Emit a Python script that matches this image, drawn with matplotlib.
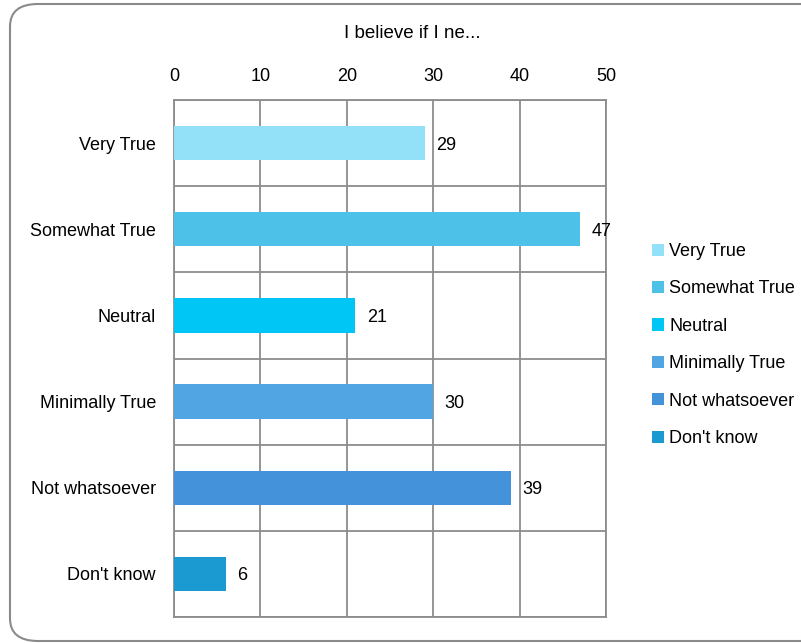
import matplotlib.pyplot as plt
from matplotlib.patches import FancyBboxPatch, Patch

plt.rcParams['font.family'] = ['Liberation Sans', 'DejaVu Sans']

# data
categories = ["Very True", "Somewhat True", "Neutral", "Minimally True", "Not whatsoever", "Don't know"]
counts = [29, 47, 21, 30, 39, 6]
colors = ["#92E1F9", "#4EC1E8", "#00C6F6", "#51A5E2", "#4392DA", "#1A9AD0"]
x_ticks = [0, 10, 20, 30, 40, 50]
title = "I believe if I ne..."

fig = plt.figure(figsize=(8.01, 6.43), dpi=100)

# rounded outer frame
frame = FancyBboxPatch((10 / 801, 2 / 643), 820 / 801, 637 / 643,
                       boxstyle="round,pad=0,rounding_size=0.035",
                       transform=fig.transFigure, facecolor="white",
                       edgecolor="#8a8a8a", linewidth=1.5, zorder=-5)
fig.patches.append(frame)

ax = fig.add_axes([174 / 801, 1 - 617 / 643, 432 / 801, 517 / 643])
ax.set_zorder(2)
ax.set_facecolor("none")

y = list(range(len(categories)))
ax.barh(y, counts, height=0.4, color=colors, zorder=3)
for yi, v in zip(y, counts):
    ax.text(v + 1.3, yi, str(v), va="center_baseline", ha="left", fontsize=13, color="black")

ax.set_xlim(0, 50)
ax.set_ylim(len(categories) - 0.5, -0.5)
ax.set_xticks(x_ticks)
ax.xaxis.tick_top()
ax.tick_params(axis="x", length=0, pad=11, labelsize=13)
ax.set_yticks(y)
ax.set_yticklabels(categories)
ax.tick_params(axis="y", length=0, pad=13, labelsize=13)

grid_col = "#8c8c8c"
for xv in x_ticks:
    ax.axvline(xv, color=grid_col, linewidth=1.3, zorder=1)
for k in range(len(categories) + 1):
    ax.axhline(k - 0.5, color=grid_col, linewidth=1.3, zorder=1)
for s in ax.spines.values():
    s.set_color(grid_col)
    s.set_linewidth(1.3)

fig.text(412 / 801, 1 - 33 / 643, title, ha="center", va="center", fontsize=13.5)

handles = [Patch(facecolor=c, edgecolor="none") for c in colors]
fig.legend(handles, categories, loc="center left", bbox_to_anchor=(645 / 801, 1 - 345 / 643),
           frameon=False, fontsize=13, handlelength=0.66, handleheight=0.66,
           handletextpad=0.28, labelspacing=1.13, borderaxespad=0)

fig.savefig("out.png", dpi=100)
